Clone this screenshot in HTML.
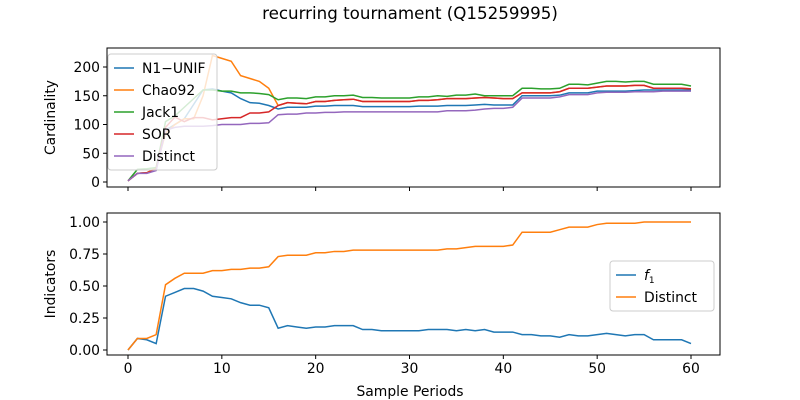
<!DOCTYPE html>
<html><head><meta charset="utf-8"><style>
html,body{margin:0;padding:0;background:#fff;}
svg{display:block;font-family:"DejaVu Sans","Liberation Sans",sans-serif;}
</style></head><body>
<svg id="chart" width="800" height="400"></svg>
<script>
const periods=[...Array(61).keys()];
const n1unif=[2,15,16,22,90,100,110,135,160,162,158,155,145,138,137,133,127,130,130,130,132,132,133,133,133,131,131,131,131,131,131,132,132,132,133,133,133,134,135,134,134,134,150,150,150,150,151,155,155,155,158,158,158,158,159,160,160,160,160,160,160];
const chao92=[2,15,16,25,85,100,110,110,150,220,215,210,185,180,175,163,133,138,137,136,140,140,142,143,144,140,140,140,140,140,140,142,142,143,145,145,145,146,147,146,145,145,155,155,155,155,157,163,163,163,165,167,167,167,168,168,163,163,163,163,162];
const jack1=[2,22,23,25,105,115,130,145,160,160,158,158,155,155,154,152,143,146,146,145,148,148,150,150,151,147,147,146,146,146,146,148,148,150,149,151,151,153,150,150,150,150,163,163,162,162,163,170,170,169,172,175,175,174,175,175,170,170,170,170,167];
const sor=[2,15,16,22,95,113,105,112,112,108,110,112,112,120,120,122,133,138,137,136,140,140,142,143,144,140,140,140,140,140,140,142,142,143,145,145,145,146,147,146,145,145,155,155,155,155,157,163,163,163,165,167,167,167,168,168,163,163,163,163,162];
const distinct=[2,15,15,20,90,95,97,97,97,98,100,100,100,102,102,103,117,118,118,120,120,121,121,122,122,122,122,122,122,122,122,122,122,122,124,124,124,125,127,128,128,130,146,146,146,146,148,152,152,152,155,156,156,156,157,157,157,158,158,158,158];
const f1=[0,0.09,0.08,0.05,0.42,0.45,0.48,0.48,0.46,0.42,0.41,0.40,0.37,0.35,0.35,0.33,0.17,0.19,0.18,0.17,0.18,0.18,0.19,0.19,0.19,0.16,0.16,0.15,0.15,0.15,0.15,0.15,0.16,0.16,0.16,0.15,0.16,0.15,0.16,0.14,0.14,0.14,0.12,0.12,0.11,0.11,0.10,0.12,0.11,0.11,0.12,0.13,0.12,0.11,0.12,0.12,0.08,0.08,0.08,0.08,0.05];
const distinctFrac=[0,0.09,0.09,0.12,0.51,0.56,0.60,0.60,0.60,0.62,0.62,0.63,0.63,0.64,0.64,0.65,0.73,0.74,0.74,0.74,0.76,0.76,0.77,0.77,0.78,0.78,0.78,0.78,0.78,0.78,0.78,0.78,0.78,0.78,0.79,0.79,0.80,0.81,0.81,0.81,0.81,0.82,0.92,0.92,0.92,0.92,0.94,0.96,0.96,0.96,0.98,0.99,0.99,0.99,0.99,1.0,1.0,1.0,1.0,1.0,1.0];
const xTicks=[0,10,20,30,40,50,60];
const topTicks=[0,50,100,150,200];
const botTicks=[0,0.25,0.5,0.75,1.0];
const botTickLabels=["0.00","0.25","0.50","0.75","1.00"];

const NS="http://www.w3.org/2000/svg";
const svg=document.getElementById('chart');
function mk(t,a,p){const e=document.createElementNS(NS,t);for(const k in a)e.setAttribute(k,a[k]);(p||svg).appendChild(e);return e;}
const X=v=>128+v*(691-128)/60;
const Ytop=v=>182-v*(182-67)/200;
const Ybot=v=>350-v*(350-222)/1;
const FS=13.9;

let t=mk('text',{x:410,y:19,'text-anchor':'middle','font-size':16.7});t.textContent='recurring tournament (Q15259995)';


function axes(y0,y1,Y,ticks,labels,name,ylabel,showX){
  const g=mk('g',{});
  
  xTicks.forEach(v=>{mk('line',{x1:X(v),x2:X(v),y1:y1,y2:y1+4,stroke:'#000'},g);
    if(showX){const l=mk('text',{x:X(v),y:y1+18,'text-anchor':'middle','font-size':FS},g);l.textContent=v;
    }});
  ticks.forEach((v,i)=>{mk('line',{x1:103,x2:107,y1:Y(v),y2:Y(v),stroke:'#000'},g);
    const l=mk('text',{x:100,y:Y(v)+5,'text-anchor':'end','font-size':FS},g);l.textContent=labels[i];
    });
  const yl=mk('text',{transform:`translate(55,${(y0+y1)/2}) rotate(-90)`,'text-anchor':'middle','font-size':FS},g);yl.textContent=ylabel;
  
  return g;
}
function series(vals,Y,color,name,clip){
  const a={points:vals.map((v,i)=>X(periods[i])+','+Y(v)).join(' '),fill:'none',stroke:color,'stroke-width':1.5};
  if(clip)a['clip-path']=clip;
  const p=mk('polyline',a);
  
}
const cp=mk('clipPath',{id:'c1'});mk('rect',{x:107,y:48,width:613,height:139},cp);

axes(48,187,Ytop,topTicks,topTicks,'top-axes','Cardinality',false);
series(n1unif,Ytop,'#1f77b4','n1-unif-line','url(#c1)');
series(chao92,Ytop,'#ff7f0e','chao92-line','url(#c1)');
series(jack1,Ytop,'#2ca02c','jack1-line','url(#c1)');
series(sor,Ytop,'#d62728','sor-line','url(#c1)');
series(distinct,Ytop,'#9467bd','distinct-line','url(#c1)');
let r=mk('rect',{x:107,y:48,width:613,height:139,fill:'none',stroke:'#000','stroke-width':1});


axes(213,355,Ybot,botTicks,botTickLabels,'bottom-axes','Indicators',true);
series(f1,Ybot,'#1f77b4','f1-line');
series(distinctFrac,Ybot,'#ff7f0e','distinct-fraction-line');
r=mk('rect',{x:107,y:213,width:613,height:142,fill:'none',stroke:'#000','stroke-width':1});

let xl=mk('text',{x:410,y:396,'text-anchor':'middle','font-size':FS});xl.textContent='Sample Periods';


function legend(x,y,w,items,name){
  const g=mk('g',{});
  mk('rect',{x:x,y:y,width:w,height:items.length*22+6,rx:3,fill:'#fff','fill-opacity':0.8,stroke:'#ccc'},g);
  items.forEach((it,i)=>{const yy=y+14+i*22;
    mk('line',{x1:x+6,x2:x+26,y1:yy,y2:yy,stroke:it[1],'stroke-width':1.5},g);
    const tx=mk('text',{x:x+34,y:yy+5,'font-size':FS},g);tx.innerHTML=it[0];
    });
}
legend(108,54,109,[['N1\u2212UNIF','#1f77b4'],['Chao92','#ff7f0e'],['Jack1','#2ca02c'],['SOR','#d62728'],['Distinct','#9467bd']],'top-legend');
legend(610,261,104,[['<tspan font-style="italic">f</tspan><tspan font-size="9" dy="3">1</tspan>','#1f77b4'],['Distinct','#ff7f0e']],'bottom-legend');
</script>
</body></html>
